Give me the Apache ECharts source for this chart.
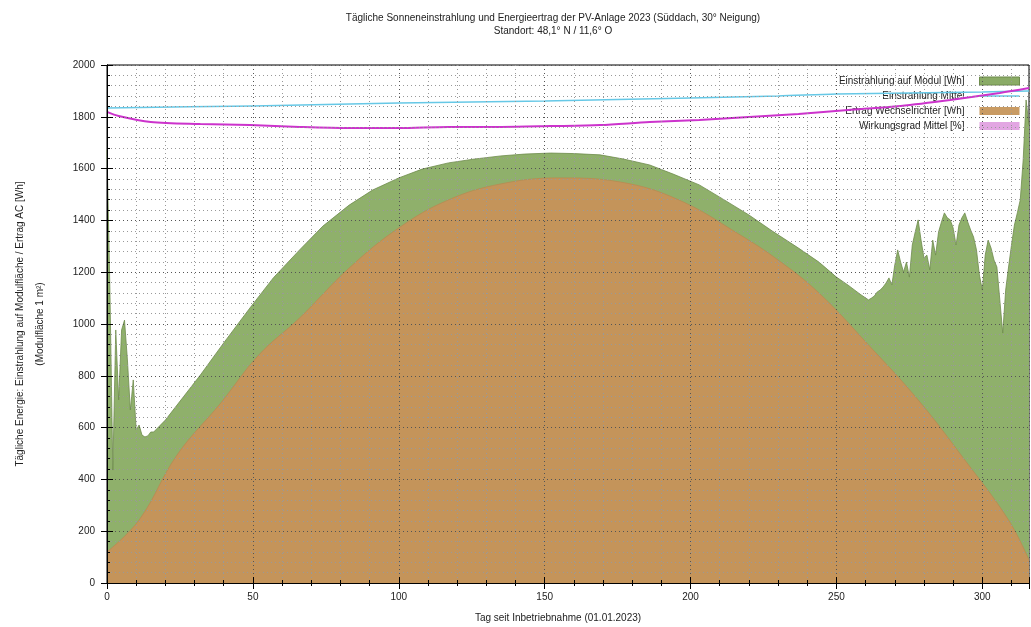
<!DOCTYPE html>
<html>
<head>
<meta charset="utf-8">
<script src="https://cdn.jsdelivr.net/npm/echarts@6/dist/echarts.min.js"></script>
<style>html,body{margin:0;padding:0;background:#fff}#c{width:1031px;height:627px}</style>
</head>
<body>
<div id="c"></div>
<script>
// ---- data ----
const titleText = "Tägliche Sonneneinstrahlung und Energieertrag der PV-Anlage 2023 (Süddach, 30° Neigung)\nStandort: 48,1° N / 11,6° O";
const xName = "Tag seit Inbetriebnahme (01.01.2023)";
const yName = "Tägliche Energie: Einstrahlung auf Modulfläche / Ertrag AC [Wh]\n(Modulfläche 1 m²)";
const legendNames = ["Einstrahlung auf Modul [Wh]", "Einstrahlung Mittel", "Ertrag Wechselrichter [Wh]", "Wirkungsgrad Mittel [%]"];

const greenDays = [0,1,2,3,4,5,6,7,8,9,10,11,12,13,14,15,16,20,24,28,32,40,49,57,66,74,83,91,100,108,117,126,135,143,152,160,169,177,186,194,203,211,220,228,237,244,250,254,258,
  261,262,263,264,265,266,267,268,269,270,271,272,273,274,275,276,277,278,279,280,281,282,283,284,285,286,287,288,289,290,291,292,293,294,295,296,297,298,299,300,301,302,303,304,305,306,307,308,309,310,311,312,313,314,315,316];
const greenWh = [1672,1131,436,977,707,977,1015,861,668,784,591,610,571,564,568,583,583,629,687,745,803,927,1062,1178,1286,1378,1459,1517,1564,1598,1622,1637,1649,1656,1660,1658,1653,1637,1614,1579,1537,1483,1421,1359,1293,1239,1181,1150,1116,
  1093,1100,1108,1124,1131,1143,1158,1178,1151,1228,1286,1239,1201,1239,1181,1305,1355,1402,1324,1255,1266,1209,1324,1266,1355,1394,1429,1410,1402,1371,1305,1382,1410,1429,1394,1363,1336,1286,1189,1131,1266,1324,1293,1247,1220,1093,965,1131,1220,1305,1382,1429,1479,1633,1865,1768];

const orangeDays = [0,11,24,39,52,66,83,100,117,135,155,176,196,217,230,244,261,278,294,309,316];
const orangeWh = [120,243,494,695,880,1023,1216,1371,1479,1541,1564,1548,1479,1344,1247,1120,919,707,475,243,89];

const blueDays = [0,50,100,150,200,230,250,300,316];
const blueWh = [1834,1842,1853,1861,1873,1880,1888,1896,1900];

const magDays = [0,4,15,32,49,66,83,100,117,135,152,169,186,203,220,237,254,272,289,306,316];
const magWh = [1819,1803,1780,1772,1768,1761,1757,1757,1761,1761,1764,1768,1780,1788,1799,1811,1826,1842,1865,1892,1911];

const xTicks = {min: 0, max: 316, interval: 50};
const yTicks = {min: 0, max: 2000, interval: 200};

// ---- chart ----
const pair = (xs, ys) => xs.map((x, i) => [x, ys[i]]);
const font = "Liberation Sans";
const chart = echarts.init(document.getElementById('c'), null, {renderer: 'canvas'});
const gridLine = {show: true, lineStyle: {color: '#555', type: [1, 3], width: 1}};
const minorGrid = {show: true, lineStyle: {color: '#999', type: [1, 3], width: 1}};
chart.setOption({
  animation: false,
  backgroundColor: '#fff',
  textStyle: {fontFamily: font},
  title: {
    text: titleText, left: 548, top: 7, textAlign: 'center',
    textStyle: {fontSize: 10, fontWeight: 'normal', color: '#222', lineHeight: 13, fontFamily: font}
  },
  legend: {
    orient: 'vertical', right: 6, top: 71, align: 'right', itemGap: 5,
    itemWidth: 40, itemHeight: 8,
    textStyle: {fontSize: 10, color: '#222', fontFamily: font, padding: [0, 10, 0, 0]},
    data: [
      {name: legendNames[0], icon: 'rect', itemStyle: {color: '#8aab66', borderColor: '#6e8c4c', borderWidth: 1}},
      {name: legendNames[1], icon: 'path://M0,4h40v1.5h-40z', itemStyle: {color: '#66c8e6'}},
      {name: legendNames[2], icon: 'rect', itemStyle: {color: '#c99b63'}},
      {name: legendNames[3], icon: 'rect', itemStyle: {color: '#e2a6e2'}}
    ]
  },
  grid: {left: 107, right: 2, top: 65, bottom: 44, show: true, borderColor: '#000', borderWidth: 1,
    backgroundColor: 'transparent', containLabel: false, outerBoundsMode: 'none'},
  xAxis: [{
    type: 'value', min: xTicks.min, max: xTicks.max, interval: xTicks.interval, z: 5,
    name: xName, nameLocation: 'middle', nameGap: 30,
    nameTextStyle: {fontSize: 10, color: '#222', fontFamily: font, padding: [0, 20, 0, 0]},
    axisLine: {show: true, lineStyle: {color: '#000', width: 1}},
    axisTick: {show: true, inside: true, length: 6, lineStyle: {color: '#000'}},
    minorTick: {show: true, splitNumber: 5, length: 3, lineStyle: {color: '#000'}},
    axisLabel: {fontSize: 10, color: '#222', margin: 9, showMaxLabel: false, fontFamily: font, formatter: v => String(v)},
    splitLine: gridLine, minorSplitLine: minorGrid
  }, {
    type: 'value', position: 'top', min: xTicks.min, max: xTicks.max, interval: xTicks.interval, z: 5,
    axisLine: {show: true, lineStyle: {color: '#000'}},
    axisTick: {show: true, inside: true, length: 6, lineStyle: {color: '#000'}},
    minorTick: {show: true, splitNumber: 5, length: 3, lineStyle: {color: '#000'}},
    axisLabel: {show: false}, splitLine: {show: false}
  }],
  yAxis: [{
    type: 'value', min: yTicks.min, max: yTicks.max, interval: yTicks.interval, z: 5,
    name: yName, nameLocation: 'middle', nameGap: 57, nameRotate: 90,
    nameTextStyle: {fontSize: 10, color: '#222', lineHeight: 20, fontFamily: font},
    axisLine: {show: true, lineStyle: {color: '#000'}},
    axisTick: {show: true, inside: true, length: 6, lineStyle: {color: '#000'}},
    minorTick: {show: true, splitNumber: 5, length: 3, lineStyle: {color: '#000'}},
    axisLabel: {fontSize: 10, color: '#222', margin: 12, fontFamily: font, formatter: v => String(v)},
    splitLine: gridLine, minorSplitLine: minorGrid
  }, {
    type: 'value', position: 'right', min: yTicks.min, max: yTicks.max, interval: yTicks.interval, z: 5,
    axisLine: {show: true, lineStyle: {color: '#000'}},
    axisTick: {show: true, inside: true, length: 6, lineStyle: {color: '#000'}},
    axisLabel: {show: false}, splitLine: {show: false}
  }],
  series: [
    {name: legendNames[0], type: 'line', data: pair(greenDays, greenWh), showSymbol: false, z: 2,
      lineStyle: {color: '#6e8c4c', width: 0.8}, itemStyle: {color: '#8aab66'},
      areaStyle: {color: '#8fb06b', opacity: 1}},
    {name: legendNames[2], type: 'line', data: pair(orangeDays, orangeWh), showSymbol: false, smooth: 0.4, z: 3,
      lineStyle: {color: '#b98a52', width: 0.8}, itemStyle: {color: '#c99b63'},
      areaStyle: {color: '#c4945a', opacity: 1}},
    {name: legendNames[1], type: 'line', data: pair(blueDays, blueWh), showSymbol: false, smooth: 0.3, z: 4,
      lineStyle: {color: '#66c8e6', width: 1.5}, itemStyle: {color: '#66c8e6'}},
    {name: legendNames[3], type: 'line', data: pair(magDays, magWh), showSymbol: false, smooth: 0.3, z: 4,
      lineStyle: {color: '#cc33cc', width: 2}, itemStyle: {color: '#e2a6e2'}}
  ]
});
</script>
</body>
</html>
